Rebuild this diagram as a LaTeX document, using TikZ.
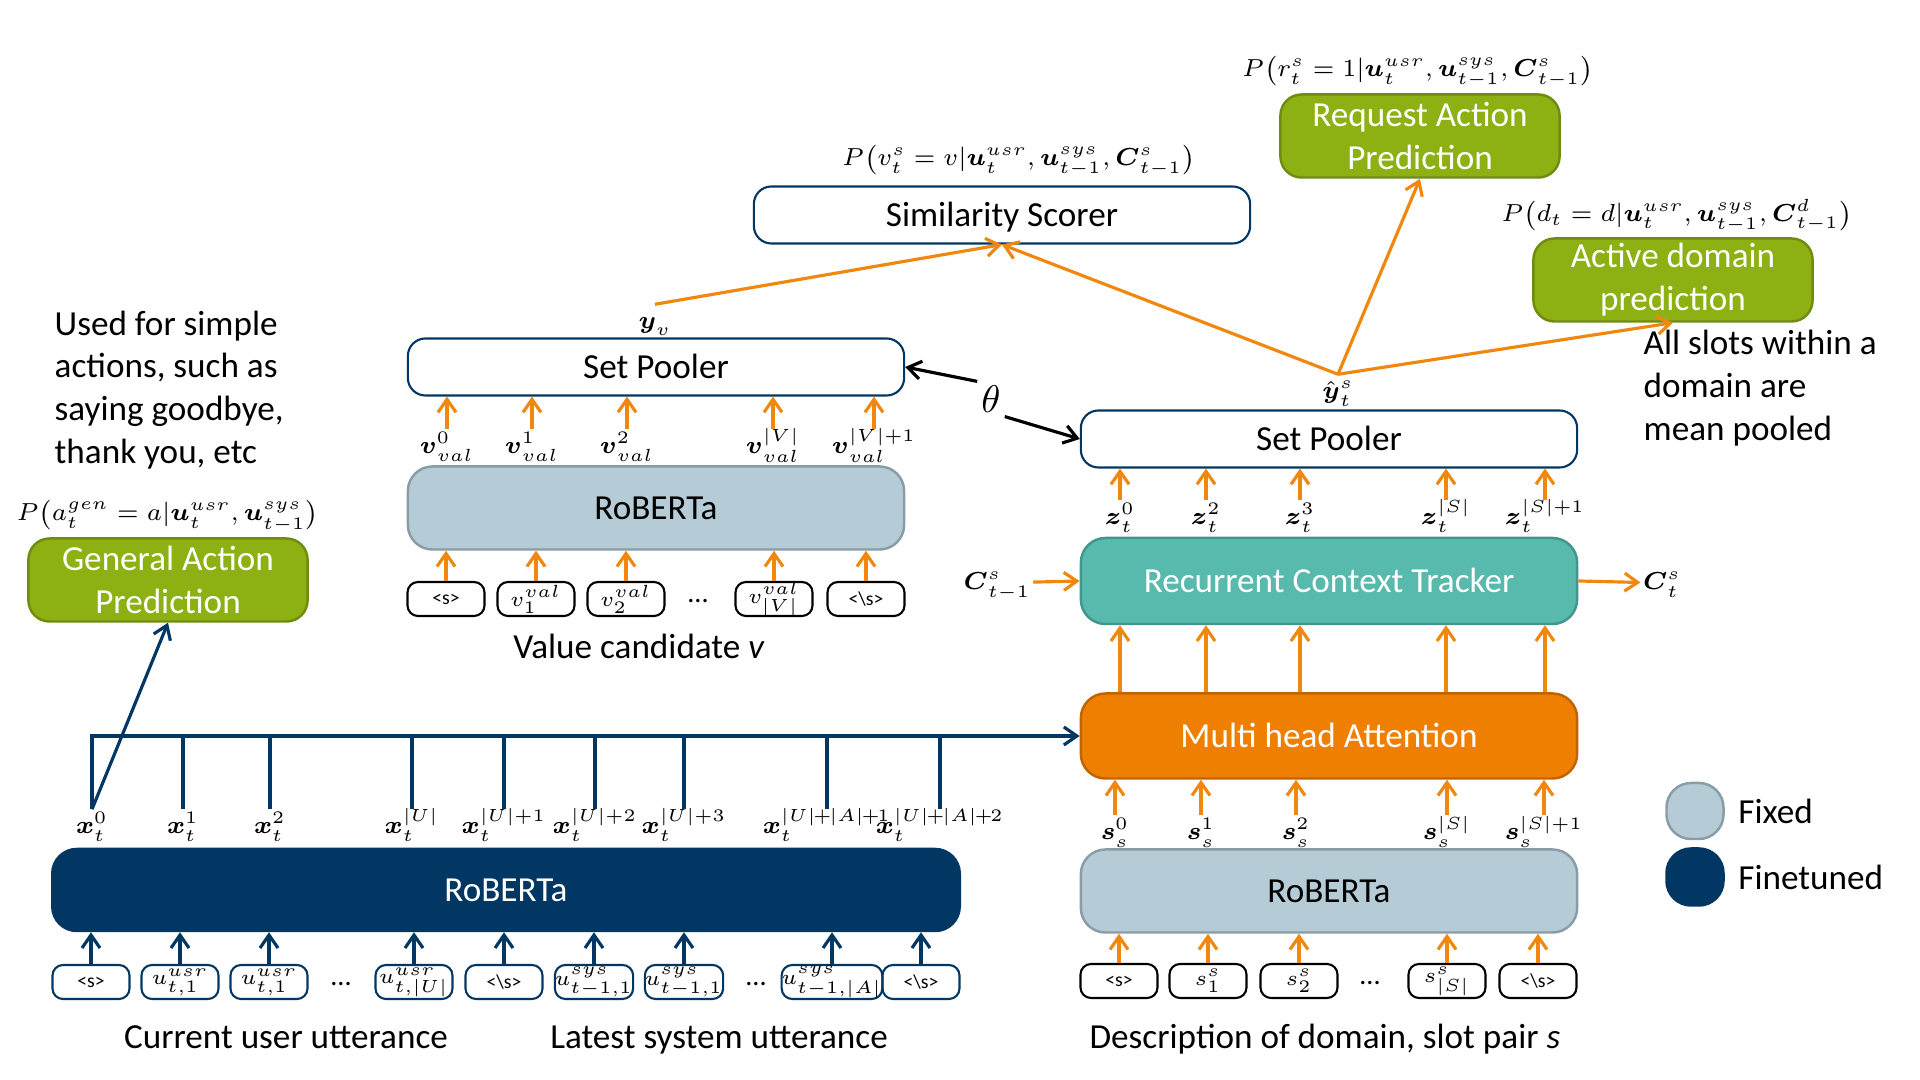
\documentclass[tikz,border=0pt]{standalone}
\usepackage{amsmath}
\usepackage{xcolor}
\usepackage{fontspec}
\setmainfont{Carlito}
\usepackage{tikz}
\usetikzlibrary{arrows.meta}

\definecolor{navy}{RGB}{2,55,99}
\definecolor{fixblue}{RGB}{181,203,213}
\definecolor{fixedge}{RGB}{138,156,165}
\definecolor{leaf}{RGB}{141,176,18}
\definecolor{leafedge}{RGB}{112,140,16}
\definecolor{rctcol}{RGB}{88,185,173}
\definecolor{rctedge}{RGB}{66,150,140}
\definecolor{mhacol}{RGB}{239,127,0}
\definecolor{mhaedge}{RGB}{192,100,0}
\definecolor{arrcol}{RGB}{240,136,16}

\tikzset{
  box/.style={draw=navy, line width=0.6pt, fill=white, rounded corners=5pt, minimum width=4.96cm, minimum height=0.57cm, inner sep=0, text height=0.28cm, text depth=0.05cm},
  grn/.style={draw=leafedge, line width=0.7pt, fill=leaf, text=white, rounded corners=6pt, align=center, minimum width=2.79cm, minimum height=0.83cm, inner sep=0},
  fixbox/.style={draw=fixedge, line width=0.7pt, fill=fixblue, rounded corners=7pt, minimum width=4.96cm, minimum height=0.83cm, inner sep=0, text height=0.28cm, text depth=0.05cm},
  tunebox/.style={draw=navy, line width=0.7pt, fill=navy, text=white, rounded corners=7pt, minimum height=0.82cm, inner sep=0, text height=0.28cm, text depth=0.05cm},
  rctbox/.style={draw=rctedge, line width=0.7pt, fill=rctcol, text=white, rounded corners=7pt, minimum width=4.96cm, minimum height=0.86cm, inner sep=0, text height=0.28cm, text depth=0.05cm},
  mhabox/.style={draw=mhaedge, line width=0.7pt, fill=mhacol, text=white, rounded corners=7pt, minimum width=4.96cm, minimum height=0.85cm, inner sep=0, text height=0.28cm, text depth=0.05cm},
  tok/.style={draw, line width=0.6pt, rounded corners=3pt, minimum width=0.77cm, minimum height=0.34cm, inner sep=0, font=\fontsize{5.6}{7}\selectfont},
  ntok/.style={tok, draw=navy},
  mlab/.style={inner sep=0.02cm, text height=0.22cm, text depth=0.08cm, font=\fontsize{7.5}{9}\selectfont},
  xlab/.style={mlab, font=\fontsize{7}{8}\selectfont},
  plab/.style={inner sep=1pt, font=\fontsize{7}{8.5}\selectfont},
  note/.style={anchor=west, align=left, inner sep=0},
  captxt/.style={anchor=base, inner sep=0},
  dts/.style={font=\fontsize{8}{9}\selectfont, inner sep=0},
  oarr/.style={draw=arrcol, line width=0.9pt, -{Straight Barb[length=1.3mm,width=1.8mm]}},
  barr/.style={draw=navy, line width=0.9pt, -{Straight Barb[length=1.3mm,width=1.8mm]}},
  bln/.style={draw=navy, line width=0.9pt},
  karr/.style={draw=black, line width=0.9pt, -{Straight Barb[length=1.3mm,width=1.8mm]}}
}

\begin{document}
\begin{tikzpicture}[x=0.01cm,y=-0.01cm,font=\fontsize{10}{12.2}\selectfont]
\useasboundingbox (0,0) rectangle (1920,1080);

\node[box] (simsc) at (1002,215) {Similarity Scorer};
\node[plab] (pv) at (1019,161) {$P\big(v_t^s=v|\boldsymbol{u}_t^{usr},\boldsymbol{u}_{t-1}^{sys},\boldsymbol{C}_{t-1}^s\big)$};
\node[grn] (req) at (1420,136) {Request Action\\Prediction};
\node[plab] (pr) at (1418,72) {$P\big(r_t^s=1|\boldsymbol{u}_t^{usr},\boldsymbol{u}_{t-1}^{sys},\boldsymbol{C}_{t-1}^s\big)$};
\node[grn] (act) at (1673,280) {Active domain\\prediction};
\node[plab] (pd) at (1677,216) {$P\big(d_t=d|\boldsymbol{u}_t^{usr},\boldsymbol{u}_{t-1}^{sys},\boldsymbol{C}_{t-1}^d\big)$};
\node[note] (meanp) at (1643,388) {All slots within a\\domain are\\mean pooled};

\node[note] (simple) at (54,390) {Used for simple\\actions, such as\\saying goodbye,\\thank you, etc};
\node[plab] (pa) at (168,516) {$P\big(a_t^{gen}=a|\boldsymbol{u}_t^{usr},\boldsymbol{u}_{t-1}^{sys}\big)$};
\node[grn] (gap) at (168,580) {General Action\\Prediction};

% value candidate
\node[box] (lpool) at (656,367) {Set Pooler};
\node[mlab] (yv) at (655,322) {$\boldsymbol{y}_v$};
\node[fixbox] (lrob) at (656,508) {RoBERTa};
\node[mlab] (v0) at (447,447) {$\boldsymbol{v}_{val}^0$};
\node[mlab] (v1) at (532,447) {$\boldsymbol{v}_{val}^1$};
\node[mlab] (v2) at (627,447) {$\boldsymbol{v}_{val}^2$};
\node[mlab] (v3) at (773,447) {$\boldsymbol{v}_{val}^{|V|}$};
\node[mlab] (v4) at (874,447) {$\boldsymbol{v}_{val}^{|V|+1}$};
\node[tok] (vt0) at (446,599) {<s>};
\node[tok] (vt1) at (536,599) {$v_1^{val}$};
\node[tok] (vt2) at (626,599) {$v_2^{val}$};
\node[dts] at (698,601) {...};
\node[tok] (vt3) at (774,599) {$v_{|V|}^{val}$};
\node[tok] (vt4) at (866,599) {<\textbackslash s>};
\node[captxt] (vcap) at (639,659) {Value candidate \textit{v}};
\draw[oarr] (v0.north) -- (v0.north |- lpool.south);
\draw[oarr] (v1.north) -- (v1.north |- lpool.south);
\draw[oarr] (v2.north) -- (v2.north |- lpool.south);
\draw[oarr] (v3.north) -- (v3.north |- lpool.south);
\draw[oarr] (v4.north) -- (v4.north |- lpool.south);
\draw[oarr] (vt0.north) -- (vt0.north |- lrob.south);
\draw[oarr] (vt1.north) -- (vt1.north |- lrob.south);
\draw[oarr] (vt2.north) -- (vt2.north |- lrob.south);
\draw[oarr] (vt3.north) -- (vt3.north |- lrob.south);
\draw[oarr] (vt4.north) -- (vt4.north |- lrob.south);

% slot side
\node[box] (rpool) at (1329,439) {Set Pooler};
\node[mlab] (yhat) at (1338,392) {$\hat{\boldsymbol{y}}_t^s$};
\node[rctbox] (rct) at (1329,581) {Recurrent Context Tracker};
\node[mhabox] (mha) at (1329,736) {Multi head Attention};
\node[fixbox] (rrob) at (1329,891) {RoBERTa};
\node[mlab] (z0) at (1120,518) {$\boldsymbol{z}_t^0$};
\node[mlab] (z1) at (1206,518) {$\boldsymbol{z}_t^2$};
\node[mlab] (z2) at (1300,518) {$\boldsymbol{z}_t^3$};
\node[mlab] (z3) at (1446,518) {$\boldsymbol{z}_t^{|S|}$};
\node[mlab] (z4) at (1545,518) {$\boldsymbol{z}_t^{|S|+1}$};
\node[mlab] (s0) at (1115,833) {$\boldsymbol{s}_s^0$};
\node[mlab] (s1) at (1201,833) {$\boldsymbol{s}_s^1$};
\node[mlab] (s2) at (1296,833) {$\boldsymbol{s}_s^2$};
\node[mlab] (s3) at (1447,833) {$\boldsymbol{s}_s^{|S|}$};
\node[mlab] (s4) at (1544,833) {$\boldsymbol{s}_s^{|S|+1}$};
\node[tok] (st0) at (1119,981) {<s>};
\node[tok] (st1) at (1208,981) {$s_1^s$};
\node[tok] (st2) at (1299,981) {$s_2^s$};
\node[dts] at (1370,983) {...};
\node[tok] (st3) at (1447,981) {$s_{|S|}^s$};
\node[tok] (st4) at (1538,981) {<\textbackslash s>};
\node[captxt] (scap) at (1325,1049) {Description of domain, slot pair \textit{s}};
\node[mlab] (cin) at (997,583) {$\boldsymbol{C}_{t-1}^s$};
\node[mlab] (cout) at (1662,583) {$\boldsymbol{C}_t^s$};
\draw[oarr] (z0.north) -- (z0.north |- rpool.south);
\draw[oarr] (z1.north) -- (z1.north |- rpool.south);
\draw[oarr] (z2.north) -- (z2.north |- rpool.south);
\draw[oarr] (z3.north) -- (z3.north |- rpool.south);
\draw[oarr] (z4.north) -- (z4.north |- rpool.south);
\draw[oarr] (mha.north -| z0) -- (rct.south -| z0);
\draw[oarr] (mha.north -| z1) -- (rct.south -| z1);
\draw[oarr] (mha.north -| z2) -- (rct.south -| z2);
\draw[oarr] (mha.north -| z3) -- (rct.south -| z3);
\draw[oarr] (mha.north -| z4) -- (rct.south -| z4);
\draw[oarr] (s0.north) -- (s0.north |- mha.south);
\draw[oarr] (s1.north) -- (s1.north |- mha.south);
\draw[oarr] (s2.north) -- (s2.north |- mha.south);
\draw[oarr] (s3.north) -- (s3.north |- mha.south);
\draw[oarr] (s4.north) -- (s4.north |- mha.south);
\draw[oarr] (st0.north) -- (st0.north |- rrob.south);
\draw[oarr] (st1.north) -- (st1.north |- rrob.south);
\draw[oarr] (st2.north) -- (st2.north |- rrob.south);
\draw[oarr] (st3.north) -- (st3.north |- rrob.south);
\draw[oarr] (st4.north) -- (st4.north |- rrob.south);
\draw[oarr] (cin) -- (rct.west);
\draw[oarr] (rct.east) -- (cout);

% top connectors
\draw[oarr] (yv.north) -- (simsc.south);
\draw[oarr] (yhat.north) -- (simsc.south);
\draw[oarr] (yhat.north) -- (req.south);
\draw[oarr] (yhat.north) -- (act.south);
\node[font=\fontsize{11}{13}\selectfont, inner sep=1pt] (theta) at (991,399) {$\theta$};
\draw[karr] (theta.north west) -- (lpool.east);
\draw[karr] (theta.south east) -- (rpool.west);

% dialogue encoder
\node[tunebox, minimum width=9.07cm] (drob) at (506,890) {RoBERTa};
\node[xlab] (x0) at (92,827) {$\boldsymbol{x}_t^0$};
\node[xlab] (x1) at (183,827) {$\boldsymbol{x}_t^1$};
\node[xlab] (x2) at (270,827) {$\boldsymbol{x}_t^2$};
\node[xlab] (x3) at (412,827) {$\boldsymbol{x}_t^{|U|}$};
\node[xlab] (x4) at (504,827) {$\boldsymbol{x}_t^{|U|+1}$};
\node[xlab] (x5) at (595,827) {$\boldsymbol{x}_t^{|U|+2}$};
\node[xlab] (x6) at (684,827) {$\boldsymbol{x}_t^{|U|+3}$};
\node[xlab] (x7) at (827,827) {$\boldsymbol{x}_t^{|U|\mkern-1.5mu+\mkern-1.5mu|A|\mkern-1.5mu+\mkern-1.5mu1}$};
\node[xlab] (x8) at (940,827) {$\boldsymbol{x}_t^{|U|\mkern-1.5mu+\mkern-1.5mu|A|\mkern-1.5mu+\mkern-1.5mu2}$};
\node[ntok] (ut0) at (91,982) {<s>};
\node[ntok] (ut1) at (180,982) {$u_{t,1}^{usr}$};
\node[ntok] (ut2) at (269,982) {$u_{t,1}^{usr}$};
\node[dts] at (341,984) {...};
\node[ntok] (ut3) at (414,982) {$u_{t,|U|}^{usr}$};
\node[ntok] (ut4) at (504,982) {<\textbackslash s>};
\node[ntok] (ut5) at (594,982) {$u_{t-1,1}^{sys}$};
\node[ntok] (ut6) at (684,982) {$u_{t-1,1}^{sys}$};
\node[dts] at (756,984) {...};
\node[ntok] (ut7) at (832,982) {$u_{t-1,|A|}^{sys}$};
\node[ntok] (ut8) at (921,982) {<\textbackslash s>};
\node[captxt] (ucap) at (286,1049) {Current user utterance};
\node[captxt] (scap2) at (719,1049) {Latest system utterance};
\draw[barr] (ut0.north) -- (ut0.north |- drob.south);
\draw[barr] (ut1.north) -- (ut1.north |- drob.south);
\draw[barr] (ut2.north) -- (ut2.north |- drob.south);
\draw[barr] (ut3.north) -- (ut3.north |- drob.south);
\draw[barr] (ut4.north) -- (ut4.north |- drob.south);
\draw[barr] (ut5.north) -- (ut5.north |- drob.south);
\draw[barr] (ut6.north) -- (ut6.north |- drob.south);
\draw[barr] (ut7.north) -- (ut7.north |- drob.south);
\draw[barr] (ut8.north) -- (ut8.north |- drob.south);
\draw[barr] (x0.north) |- (mha.west);
\draw[bln] (x1.north) -- (x1.north |- mha.west);
\draw[bln] (x2.north) -- (x2.north |- mha.west);
\draw[bln] (x3.north) -- (x3.north |- mha.west);
\draw[bln] (x4.north) -- (x4.north |- mha.west);
\draw[bln] (x5.north) -- (x5.north |- mha.west);
\draw[bln] (x6.north) -- (x6.north |- mha.west);
\draw[bln] (x7.north) -- (x7.north |- mha.west);
\draw[bln] (x8.north) -- (x8.north |- mha.west);
\draw[barr] (x0.north) -- (gap.south);

% legend
\node[fixbox, minimum width=0.57cm, minimum height=0.56cm] (fx) at (1695,811) {};
\node[anchor=west] (fxl) at (1726,811) {Fixed};
\node[tunebox, minimum width=0.57cm, minimum height=0.57cm] (ft) at (1695,877) {};
\node[anchor=west] (ftl) at (1726,877) {Finetuned};
\end{tikzpicture}
\end{document}
